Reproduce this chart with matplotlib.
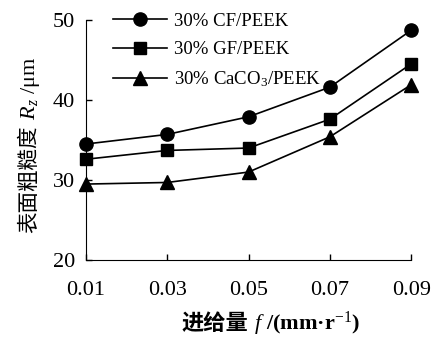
import matplotlib
matplotlib.use("Agg")
from matplotlib import pyplot as plt

plt.rcParams['font.family'] = ['Liberation Serif', 'Noto Sans CJK SC']
plt.rcParams['mathtext.fontset'] = 'custom'
plt.rcParams['mathtext.rm'] = 'Liberation Serif'
plt.rcParams['mathtext.it'] = 'Liberation Serif:italic'
plt.rcParams['mathtext.bf'] = 'Liberation Serif:bold'

feed = [0.01, 0.03, 0.05, 0.07, 0.09]
cf_peek = [34.5, 35.7, 37.9, 41.6, 48.7]
gf_peek = [32.6, 33.7, 34.0, 37.6, 44.5]
caco3_peek = [29.5, 29.7, 31.0, 35.4, 41.9]
labels = ['30% CF/PEEK', '30% GF/PEEK', '30% CaCO$_3$/PEEK']

fig = plt.figure(figsize=(4.45, 3.37), dpi=100)
ax = fig.add_axes([0.193, 0.228, 0.731, 0.713])

ax.plot(feed, cf_peek, 'k-o', lw=1.2, ms=9.5, label=labels[0], clip_on=False)
ax.plot(feed, gf_peek, 'k-s', lw=1.2, ms=9, label=labels[1], clip_on=False)
ax.plot(feed, caco3_peek, 'k-^', lw=1.2, ms=10.5, label=labels[2], clip_on=False)

ax.set_xlim(0.01, 0.09)
ax.set_ylim(20, 50)
ax.set_xticks(feed)
ax.set_xticklabels(['0.01', '0.03', '0.05', '0.07', '0.09'])
ax.set_yticks([20, 30, 40, 50])
ax.tick_params(direction='in', length=4, width=1, labelsize=16)
ax.tick_params(axis='x', pad=15)
ax.tick_params(axis='y', pad=8)
ax.spines['top'].set_visible(False)
ax.spines['right'].set_visible(False)

ax.legend(loc='upper left', bbox_to_anchor=(0.03, 1.10), frameon=False,
          fontsize=13.5, handlelength=2.9, handletextpad=0.4, labelspacing=0.6)

# axis titles: CJK part and math part as separate texts so the CJK font is found
cjk = ['Noto Sans CJK SC']
xl1 = fig.text(0.409, 0.021, '进给量', family=cjk, fontsize=16,
               fontweight='bold', ha='left', va='baseline')
ax.annotate(' $f$ /(mm·r$^{-1}$)', xy=(1, 0.021),
            xycoords=(xl1, 'figure fraction'), fontsize=16,
            fontweight='bold', ha='left', va='baseline')

yl1 = fig.text(0.0787, 0.31, '表面粗糙度', family=cjk, fontsize=15.5,
               rotation=90, rotation_mode='anchor', ha='left', va='baseline')
ax.annotate(' $R_z$ /μm', xy=(0.0787, 1),
            xycoords=('figure fraction', yl1), fontsize=16,
            rotation=90, rotation_mode='anchor', ha='left', va='baseline')

fig.savefig('out.png', dpi=100)
